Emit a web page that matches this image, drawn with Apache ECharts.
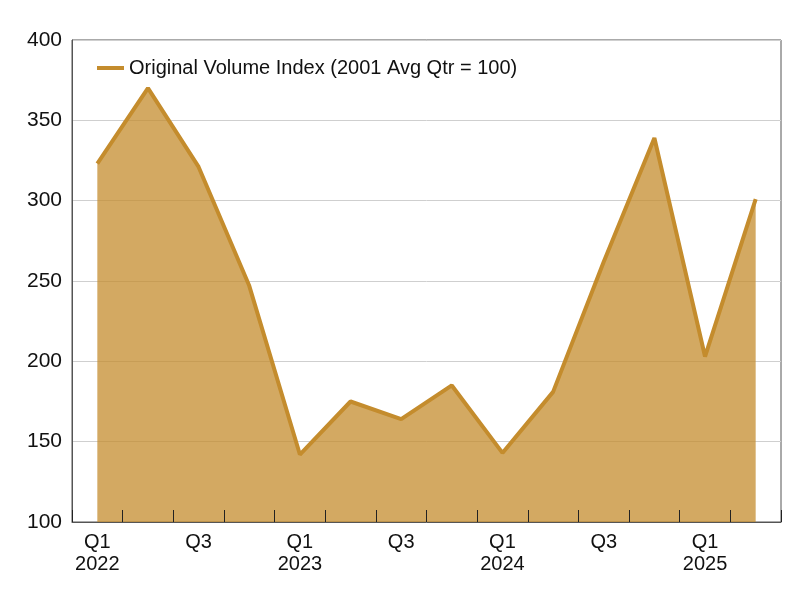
<!DOCTYPE html>
<html>
<head>
<meta charset="utf-8">
<script src="https://cdn.jsdelivr.net/npm/echarts@6/dist/echarts.min.js"></script>
<style>
  html, body { margin: 0; padding: 0; background: #fff; }
  #chart { width: 800px; height: 600px; }
</style>
</head>
<body>
<div id="chart"></div>
<script>
const quarters = [
  'Q1\n2022', 'Q2', 'Q3', 'Q4',
  'Q1\n2023', 'Q2', 'Q3', 'Q4',
  'Q1\n2024', 'Q2', 'Q3', 'Q4',
  'Q1\n2025', 'Q2'
]
const volumeIndex = [323, 370, 321, 247, 142, 175, 164, 185, 143, 181, 262, 339, 203, 301]
const seriesName = 'Original Volume Index (2001 Avg Qtr = 100)'
const yTicks = { min: 100, max: 400, step: 50 }

const font = '"Liberation Sans", Arial, Helvetica, sans-serif'
const gold = '#C48C2D'

const chart = echarts.init(document.getElementById('chart'))
chart.setOption({
  animation: false,
  textStyle: { fontFamily: font },
  grid: {
    left: 72,
    right: 19,
    top: 40,
    bottom: 78,
    show: true,
    borderColor: '#555',
    borderWidth: 1
  },
  legend: {
    left: 92,
    top: 53,
    icon: 'rect',
    itemWidth: 27,
    itemHeight: 4,
    itemGap: 8,
    textStyle: { fontSize: 20, color: '#111', fontFamily: font },
    data: [seriesName]
  },
  xAxis: {
    type: 'category',
    boundaryGap: true,
    data: quarters,
    z: 20,
    axisLine: { lineStyle: { color: '#555', width: 1 } },
    axisTick: { show: true, inside: true, alignWithLabel: false, length: 12, interval: 0, lineStyle: { color: '#222', width: 1 } },
    axisLabel: {
      interval: 1,
      fontSize: 20,
      lineHeight: 22,
      color: '#111',
      margin: 9,
      fontFamily: font
    }
  },
  yAxis: {
    type: 'value',
    min: yTicks.min,
    max: yTicks.max,
    interval: yTicks.step,
    axisLine: { show: true, lineStyle: { color: '#555' } },
    axisTick: { show: false },
    axisLabel: { fontSize: 21, color: '#111', margin: 10, fontFamily: font },
    splitLine: { lineStyle: { color: '#cfcfcf', width: 1 } }
  },
  series: [
    {
      name: seriesName,
      type: 'line',
      z: 1,
      symbol: 'none',
      data: volumeIndex,
      itemStyle: { color: gold },
      lineStyle: { color: gold, width: 4 },
      areaStyle: { color: gold, opacity: 0.75, origin: 'start' }
    }
  ]
})
</script>
</body>
</html>
